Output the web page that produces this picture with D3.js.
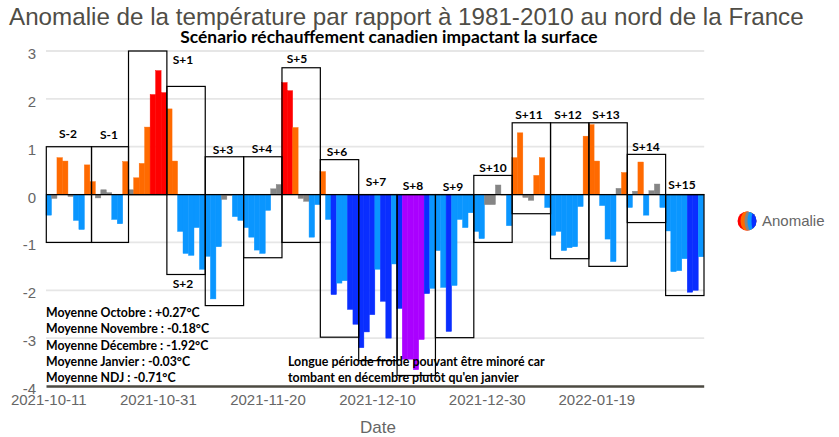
<!DOCTYPE html>
<html><head><meta charset="utf-8">
<script src="https://cdn.jsdelivr.net/npm/d3@7/dist/d3.min.js"></script>
<style>html,body{margin:0;padding:0;background:#fff}svg{display:block}</style>
</head><body><svg id="c" width="839" height="437"></svg>
<script>
const titleText = "Anomalie de la température par rapport à 1981-2010 au nord de la France";
const subtitleText = "Scénario réchauffement canadien impactant la surface";
const firstDay = "2021-10-11";
const anomalies = [
-0.43,-0.08,0.77,0.70,-0.04,-0.54,-0.73,0.62,0.27,-0.07,
0.10,0.04,-0.52,-0.61,0.69,0.10,0.35,0.65,1.41,2.09,
2.59,2.13,1.79,0.70,-0.77,-1.23,-1.27,-0.69,-1.56,-1.29,
-2.18,-1.09,-0.10,-0.02,-0.46,-0.54,-0.69,-0.89,-1.16,-1.23,
-0.33,0.12,0.21,2.34,2.17,1.40,-0.08,-0.14,-0.89,-0.21,
0.48,-0.52,-2.09,-1.85,-1.80,-2.40,-2.71,-3.20,-2.87,-2.51,
-1.56,-2.23,-3.00,-1.45,-2.38,-3.44,-3.44,-3.66,-3.03,-2.07,
-1.96,-1.17,-1.94,-2.86,-1.90,-0.52,-0.69,-0.38,-0.77,-0.92,
-0.21,-0.21,0.20,-0.01,-0.65,0.77,1.29,-0.06,-0.12,0.40,
0.77,-0.27,-0.85,-0.77,-1.17,-1.11,-1.09,-0.25,1.22,1.46,
0.70,-0.23,-0.93,-1.40,0.13,0.46,-0.27,0.07,0.68,-0.43,
0.08,0.22,-0.27,-0.76,-1.61,-1.59,-1.34,-2.04,-2.00,-1.30];
const classes = ("b g o o g b b o o g g g b b o g o o o r r r o o b b b b b b b b g g b b b b b b "+
"b g g r r o g g b b o b d b b d d d d d b d d b d p p p p d b b b d b b b b b b "+
"g g g g b o o g g o o b b b b b b b o o o b b b g o b g o b g g b b b b b d d b").split(" ");
const classNames = ["g","o","r","b","d","p"];
const classColors = ["#858585","#ff6a00","#ff0000","#0a96ff","#0a2eff","#aa00ff"];
const yTicks = [3,2,1,0,-1,-2,-3,-4];
const xTickLabels = ["2021-10-11","2021-10-31","2021-11-20","2021-12-10","2021-12-30","2022-01-19"];
const boxLabels = ["S-2","S-1","S+1","S+2","S+3","S+4","S+5","S+6","S+7","S+8","S+9","S+10","S+11","S+12","S+13","S+14","S+15"];
const boxEdges = [0,8.25,15,22,29,36,43,50,57,64,71,78,85,92,99,106,113,120];
const boxTops = [1,1,3,2.26,0.79,0.79,2.65,0.73,0,0,0,0.40,1.50,1.50,1.50,0.84,0];
const boxBottoms = [-1,-1,0,-1.67,-2.32,-1.32,-1,-2.98,-3.47,-3.78,-2.99,-1,-0.40,-1.34,-1.50,-0.585,-2.11];
const labelCenters = [[68,134],[109,135],[183,60],[183,284],[223,150],[262,149],[297,59],[337,152],[376,182],[413,186],[453,187],[493,168],[529,115],[568,115],[606,115],[646,147],[682,185]];
const notesLeft = ["Moyenne Octobre : +0.27°C","Moyenne Novembre : -0.18°C","Moyenne Décembre : -1.92°C","Moyenne Janvier : -0.03°C","Moyenne NDJ : -0.71°C"];
const notesRight = ["Longue période froide pouvant être minoré car","tombant en décembre plutôt qu'en janvier"];
const legendColors = ["#ff0000","#ff6a00","#858585","#0a96ff","#0a2eff"];

const svg = d3.select("#c");
const L=46,R=703.7,T=51,B=386;
const parse=d3.utcParse("%Y-%m-%d"), fmt=d3.utcFormat("%Y-%m-%d");
const dates=d3.utcDay.range(parse(firstDay),d3.utcDay.offset(parse(firstDay),anomalies.length)).map(fmt);
const x=d3.scaleBand().domain(dates).range([L,R]).paddingInner(0).paddingOuter(0);
const xEdge=d3.scaleLinear().domain([0,anomalies.length]).range([L,R]);
const y=d3.scaleLinear().domain([3,-4]).range([T,B]);
const color=d3.scaleOrdinal().domain(classNames).range(classColors);
const sans="'Liberation Sans',Arial,sans-serif", cal="Lato,'Open Sans',sans-serif";

// grid
svg.append("g").selectAll("line").data(yTicks.filter(d=>d!==-4)).join("line")
 .attr("x1",L).attr("x2",R+0.5).attr("y1",d=>y(d)).attr("y2",d=>y(d))
 .attr("stroke","#e6e6e6").attr("stroke-width",1.8);

// bars
svg.append("g").selectAll("rect").data(anomalies).join("rect")
 .attr("x",(d,i)=>x(dates[i])).attr("width",x.bandwidth())
 .attr("y",d=>Math.min(y(d),y(0))).attr("height",d=>Math.abs(y(d)-y(0)))
 .attr("fill",(d,i)=>color(classes[i]))
 .attr("stroke",(d,i)=>color(classes[i])).attr("stroke-width",0.45);

// boxes
svg.append("g").selectAll("rect").data(boxLabels).join("rect")
 .attr("x",(d,i)=>xEdge(boxEdges[i])+0.3).attr("width",(d,i)=>xEdge(boxEdges[i+1])-xEdge(boxEdges[i]))
 .attr("y",(d,i)=>y(boxTops[i])).attr("height",(d,i)=>y(boxBottoms[i])-y(boxTops[i]))
 .attr("fill","none").attr("stroke","#000").attr("stroke-width",1.2);
svg.append("line").attr("x1",L).attr("x2",R+0.5).attr("y1",y(0)).attr("y2",y(0)).attr("stroke","#000").attr("stroke-width",1.2);

// box labels
svg.append("g").selectAll("text").data(boxLabels).join("text").text(d=>d)
 .attr("x",(d,i)=>labelCenters[i][0]).attr("y",(d,i)=>labelCenters[i][1]+4)
 .attr("text-anchor","middle").attr("font-family",cal).attr("font-weight",700).attr("font-size",12).attr("fill","#000");

// axes
const ay=svg.append("g").attr("transform",`translate(${L},0)`)
 .call(d3.axisLeft(y).tickValues(yTicks).tickFormat(d=>String(d)).tickSize(0).tickPadding(10));
ay.select(".domain").remove();
ay.selectAll("text").attr("font-family",sans).attr("font-size",15).attr("fill","#666").attr("dy","0.5em");
const ax=svg.append("g").attr("transform",`translate(0,${B})`)
 .call(d3.axisBottom(x).tickValues(xTickLabels).tickSize(0).tickPadding(8.5));
ax.select(".domain").attr("stroke","#4c4a42").attr("stroke-width",2.4);
ax.selectAll("text").attr("font-family",sans).attr("font-size",15).attr("fill","#666");

// titles
svg.append("text").text(titleText).attr("x",9).attr("y",25).attr("font-family",sans).attr("font-size",24.2).attr("fill","#4f4d46");
svg.append("text").text(subtitleText).attr("x",389).attr("y",43).attr("text-anchor","middle").attr("font-family",cal).attr("font-weight",700).attr("font-size",17.4).attr("fill","#000");
svg.append("text").text("Date").attr("x",378).attr("y",433).attr("text-anchor","middle").attr("font-family",sans).attr("font-size",17).attr("fill","#666");

// notes
svg.append("g").selectAll("text").data(notesLeft).join("text").text(d=>d)
 .attr("x",46).attr("y",(d,i)=>317+i*16.25).attr("font-family",cal).attr("font-weight",700).attr("font-size",12.3).attr("fill","#000");
svg.append("g").selectAll("text").data(notesRight).join("text").text(d=>d)
 .attr("x",288).attr("y",(d,i)=>366+i*16).attr("font-family",cal).attr("font-weight",700).attr("font-size",12.4).attr("fill","#000");

// legend
const lg=svg.append("g").attr("transform","translate(747,221)");
lg.append("clipPath").attr("id","lc").append("circle").attr("r",9.5);
lg.append("g").attr("clip-path","url(#lc)").selectAll("ellipse").data(legendColors).join("ellipse")
 .attr("cx",(d,i)=>[0,1.5,3,5,8][i]).attr("cy",0).attr("rx",(d,i)=>[10,8,5.5,4.5,3.5][i]).attr("ry",11).attr("fill",d=>d);
svg.append("text").text("Anomalie").attr("x",762).attr("y",226).attr("font-family",sans).attr("font-size",15).attr("fill","#666");
</script></body></html>
